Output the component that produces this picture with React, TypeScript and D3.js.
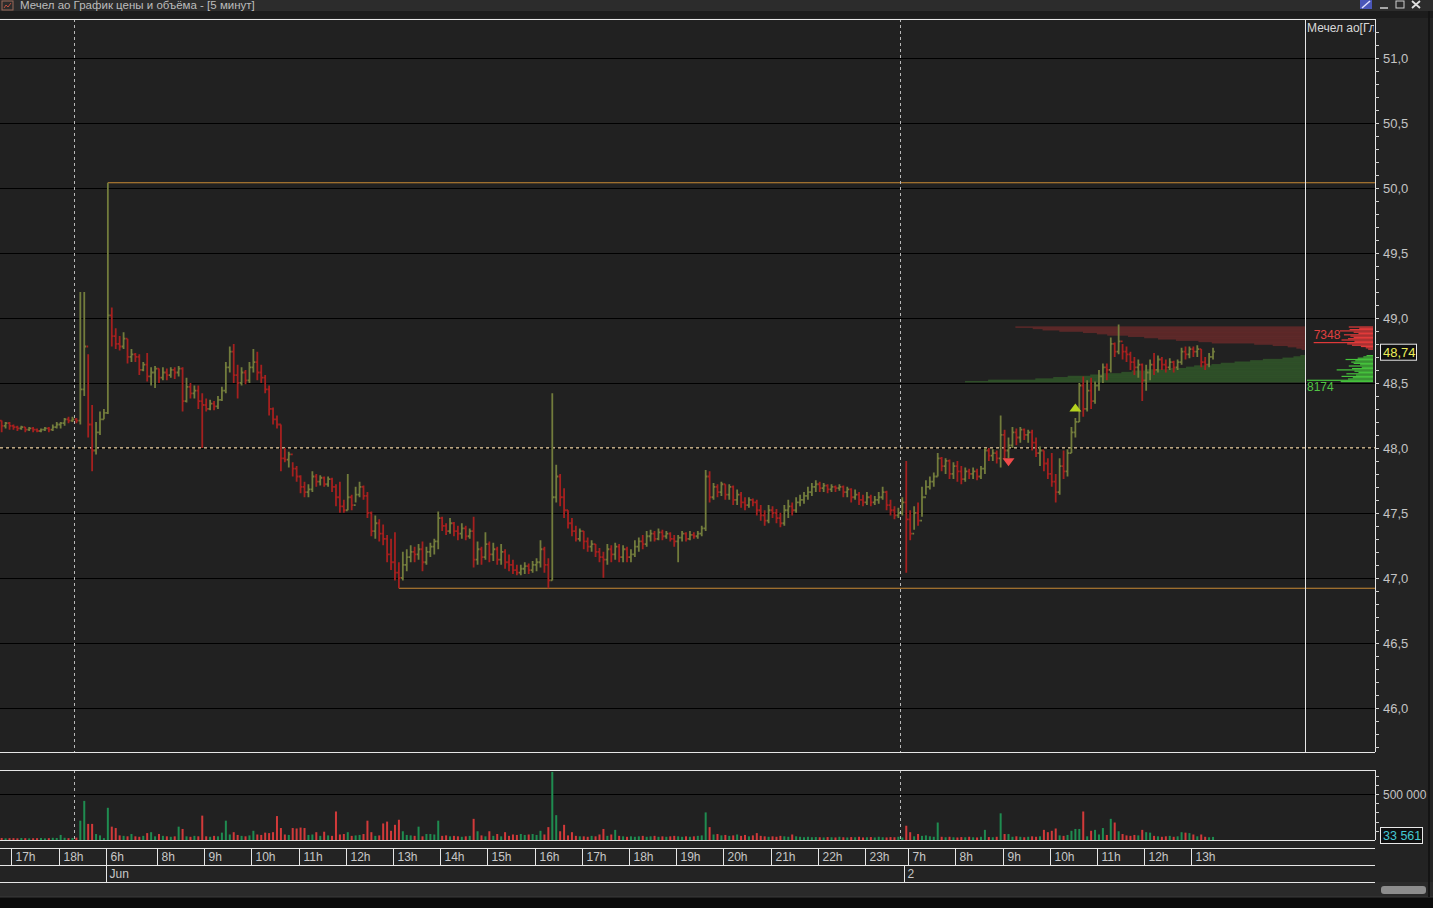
import React, { useRef, useEffect } from "react";
import * as d3 from "d3";

// window caption and panel label
const title = "Мечел ао График цены и объёма - [5 минут]";
const panelLabel = "Мечел ао[Главный]";

// 5-minute OHLC bars, open of each bar = previous close
const firstOpen = 48.21;
const closes = [
  48.17, 48.19, 48.17,
  // 17h
  48.16, 48.15, 48.16, 48.14, 48.15, 48.14, 48.13, 48.14, 48.15, 48.14, 48.16, 48.18,
  // 18h
  48.19, 48.22, 48.21, 48.22, 48.21, 48.45, 48.78, 48.18, 47.98, 48.12, 48.22, 48.27,
  // 6h-7h
  49.02, 48.86, 48.8, 48.78, 48.84, 48.7, 48.72, 48.7, 48.6, 48.64, 48.55, 48.58, 48.61,
  // 8h
  48.54, 48.58, 48.56, 48.6, 48.58, 48.61, 48.36, 48.47, 48.42, 48.44, 48.36, 48.33,
  // 9h
  48.3, 48.34, 48.32, 48.37, 48.44, 48.62, 48.74, 48.56, 48.5, 48.58, 48.52, 48.62,
  // 10h
  48.66, 48.58, 48.54, 48.45, 48.3, 48.22, 48.18, 47.92, 47.91, 47.95, 47.84, 47.78,
  // 11h
  47.7, 47.66, 47.68, 47.78, 47.74, 47.77, 47.72, 47.76, 47.7, 47.62, 47.55, 47.52,
  // 12h
  47.62, 47.56, 47.64, 47.7, 47.63, 47.5, 47.36, 47.42, 47.34, 47.3, 47.18, 47.12,
  // 13h
  47.04, 47.0, 47.1, 47.16, 47.2, 47.18, 47.22, 47.12, 47.2, 47.24, 47.28, 47.46,
  // 14h
  47.4, 47.36, 47.42, 47.36, 47.34, 47.38, 47.32, 47.36, 47.14, 47.22, 47.16, 47.26,
  // 15h
  47.18, 47.22, 47.14, 47.2, 47.12, 47.1, 47.06, 47.04, 47.07, 47.09, 47.06, 47.1,
  // 16h
  47.12, 47.22, 47.1, 46.98, 47.62, 47.78, 47.62, 47.52, 47.42, 47.36, 47.3, 47.36,
  // 17h
  47.28, 47.24, 47.26, 47.2, 47.16, 47.14, 47.22, 47.18, 47.24, 47.16, 47.22, 47.16,
  // 18h
  47.18, 47.24, 47.28, 47.26, 47.32, 47.34, 47.3, 47.35, 47.32, 47.34, 47.3, 47.28,
  // 19h
  47.31, 47.34, 47.3, 47.33, 47.32, 47.34, 47.38, 47.78, 47.62, 47.7, 47.66, 47.72,
  // 20h
  47.64, 47.7, 47.6, 47.64, 47.58, 47.56, 47.6, 47.58, 47.52, 47.48, 47.44, 47.52,
  // 21h
  47.5, 47.46, 47.42, 47.52, 47.55, 47.52, 47.58, 47.6, 47.63, 47.66, 47.7, 47.72,
  // 22h
  47.69, 47.71, 47.68, 47.7, 47.69, 47.7, 47.66, 47.68, 47.62, 47.64, 47.6, 47.58,
  // 23h
  47.62, 47.58, 47.6, 47.62, 47.66, 47.56, 47.52, 47.48, 47.5, 47.58,
  // 2 Jun, opening bar
  47.45,
  // 7h
  47.34, 47.5, 47.44, 47.62, 47.7, 47.74, 47.78, 47.92, 47.86, 47.9, 47.8, 47.86,
  // 8h
  47.82, 47.76, 47.82, 47.8, 47.82, 47.78, 47.84, 47.98, 47.94, 47.96, 47.92, 48.1,
  // 9h
  47.98, 48.02, 48.12, 48.08, 48.14, 48.1, 48.12, 48.04, 47.96, 47.98, 47.88, 47.8,
  // 10h
  47.74, 47.66, 47.86, 47.82, 47.96, 48.12, 48.2, 48.48, 48.3, 48.44, 48.36, 48.48,
  // 11h
  48.55, 48.62, 48.6, 48.8, 48.74, 48.82, 48.74, 48.72, 48.66, 48.62, 48.64, 48.52,
  // 12h
  48.58, 48.64, 48.6, 48.68, 48.64, 48.62, 48.66, 48.62, 48.66, 48.74, 48.72, 48.76,
  // 13h
  48.74, 48.76, 48.66, 48.64, 48.7, 48.74,
];
const highs = [
  48.21, 48.2, 48.2,
  48.18, 48.17, 48.17, 48.16, 48.16, 48.16, 48.15, 48.15, 48.16, 48.16, 48.18, 48.2,
  48.2, 48.23, 48.24, 48.24, 48.23, 49.2, 49.2, 48.72, 48.33, 48.2, 48.28, 48.3,
  50.04, 49.08, 48.92, 48.86, 48.89, 48.84, 48.76, 48.73, 48.72, 48.66, 48.73, 48.62, 48.63,
  48.61, 48.62, 48.61, 48.62, 48.62, 48.63, 48.62, 48.54, 48.5, 48.48, 48.48, 48.42,
  48.38, 48.37, 48.36, 48.4, 48.47, 48.66, 48.78, 48.8, 48.64, 48.62, 48.6, 48.66,
  48.76, 48.74, 48.64, 48.56, 48.48, 48.31, 48.25, 48.18, 48.0, 47.97, 47.89, 47.86,
  47.79, 47.74, 47.72, 47.82, 47.8, 47.79, 47.78, 47.78, 47.77, 47.72, 47.74, 47.6,
  47.8, 47.64, 47.7, 47.74, 47.71, 47.66, 47.51, 47.48, 47.45, 47.41, 47.33, 47.3,
  47.35, 47.12, 47.2, 47.22, 47.25, 47.24, 47.26, 47.28, 47.24, 47.27, 47.3, 47.51,
  47.47, 47.42, 47.46, 47.43, 47.4, 47.42, 47.4, 47.38, 47.47, 47.28, 47.24, 47.35,
  47.28, 47.27, 47.24, 47.26, 47.22, 47.18, 47.14, 47.1, 47.1, 47.12, 47.11, 47.13,
  47.15, 47.29, 47.24, 47.15, 48.42, 47.87, 47.8, 47.69, 47.52, 47.46, 47.4, 47.38,
  47.36, 47.31, 47.29, 47.26, 47.23, 47.2, 47.26, 47.25, 47.27, 47.26, 47.25, 47.24,
  47.22, 47.29, 47.31, 47.33, 47.36, 47.37, 47.36, 47.38, 47.37, 47.36, 47.35, 47.33,
  47.33, 47.36, 47.35, 47.36, 47.35, 47.36, 47.4, 47.83, 47.82, 47.73, 47.72, 47.74,
  47.72, 47.72, 47.71, 47.68, 47.66, 47.62, 47.62, 47.61, 47.6, 47.56, 47.52, 47.56,
  47.55, 47.53, 47.5, 47.56, 47.6, 47.58, 47.62, 47.64, 47.66, 47.7, 47.73, 47.75,
  47.74, 47.73, 47.72, 47.72, 47.71, 47.72, 47.71, 47.7, 47.69, 47.68, 47.66, 47.64,
  47.66, 47.64, 47.63, 47.66, 47.7, 47.67, 47.6, 47.55, 47.54, 47.62,
  47.9,
  47.52, 47.55, 47.58, 47.7, 47.75, 47.78, 47.81, 47.96, 47.93, 47.92, 47.91, 47.89,
  47.9, 47.86, 47.85, 47.84, 47.85, 47.84, 47.86, 48.0, 48.0, 47.99, 47.98, 48.25,
  48.14, 48.08, 48.16, 48.15, 48.16, 48.15, 48.14, 48.14, 48.08, 48.01, 47.98, 47.92,
  47.96, 47.8, 47.92, 47.98, 47.99, 48.16, 48.23, 48.5, 48.55, 48.52, 48.54, 48.51,
  48.6, 48.65, 48.65, 48.85, 48.81, 48.95, 48.8, 48.78, 48.74, 48.7, 48.68, 48.65,
  48.64, 48.68, 48.73, 48.71, 48.7, 48.68, 48.69, 48.67, 48.68, 48.77, 48.78, 48.78,
  48.78, 48.79, 48.76, 48.7, 48.73, 48.77,
];
const lows = [
  48.12, 48.15, 48.14,
  48.14, 48.13, 48.14, 48.12, 48.13, 48.12, 48.12, 48.12, 48.13, 48.12, 48.13, 48.15,
  48.15, 48.17, 48.19, 48.2, 48.19, 48.18, 48.4, 48.08, 47.82, 47.95, 48.1, 48.22,
  48.26, 48.78, 48.76, 48.75, 48.76, 48.65, 48.66, 48.66, 48.56, 48.59, 48.51, 48.48, 48.46,
  48.5, 48.52, 48.52, 48.54, 48.53, 48.55, 48.28, 48.35, 48.38, 48.38, 48.3, 48.0,
  48.28, 48.29, 48.29, 48.3, 48.36, 48.42, 48.58, 48.5, 48.38, 48.48, 48.49, 48.5,
  48.58, 48.52, 48.5, 48.42, 48.25, 48.18, 48.15, 47.82, 47.89, 47.85, 47.78, 47.74,
  47.65, 47.62, 47.62, 47.66, 47.7, 47.71, 47.7, 47.7, 47.66, 47.55, 47.5, 47.5,
  47.52, 47.52, 47.58, 47.62, 47.6, 47.46, 47.32, 47.3, 47.28, 47.25, 47.12, 47.06,
  46.98, 46.92, 46.98, 47.05, 47.12, 47.12, 47.14, 47.05, 47.1, 47.16, 47.18, 47.22,
  47.36, 47.33, 47.34, 47.32, 47.29, 47.3, 47.29, 47.3, 47.08, 47.1, 47.1, 47.14,
  47.12, 47.13, 47.1, 47.1, 47.07, 47.05, 47.03, 47.02, 47.02, 47.03, 47.03, 47.04,
  47.05, 47.08, 47.04, 46.92, 46.98, 47.58, 47.55, 47.46, 47.38, 47.32, 47.28, 47.28,
  47.22, 47.2, 47.2, 47.16, 47.12, 47.0, 47.1, 47.12, 47.14, 47.12, 47.12, 47.12,
  47.12, 47.16, 47.2, 47.22, 47.24, 47.28, 47.28, 47.29, 47.29, 47.3, 47.28, 47.24,
  47.12, 47.28, 47.28, 47.29, 47.3, 47.3, 47.32, 47.36, 47.58, 47.6, 47.62, 47.63,
  47.6, 47.6, 47.56, 47.56, 47.54, 47.52, 47.54, 47.55, 47.48, 47.44, 47.4, 47.42,
  47.46, 47.42, 47.39, 47.4, 47.46, 47.48, 47.5, 47.55, 47.57, 47.6, 47.63, 47.66,
  47.66, 47.66, 47.65, 47.66, 47.66, 47.67, 47.62, 47.62, 47.58, 47.6, 47.56, 47.55,
  47.56, 47.55, 47.56, 47.57, 47.6, 47.52, 47.48, 47.45, 47.46, 47.48,
  47.04,
  47.29, 47.37, 47.4, 47.47, 47.64, 47.68, 47.7, 47.78, 47.82, 47.8, 47.76, 47.76,
  47.74, 47.72, 47.74, 47.76, 47.76, 47.75, 47.76, 47.8, 47.9, 47.9, 47.88, 47.85,
  47.91, 47.92, 48.0, 48.02, 48.04, 48.06, 48.04, 47.98, 47.93, 47.86, 47.82, 47.76,
  47.7, 47.58, 47.64, 47.76, 47.78, 47.96, 48.08, 48.2, 48.24, 48.28, 48.3, 48.34,
  48.44, 48.5, 48.52, 48.58, 48.7, 48.72, 48.68, 48.66, 48.6, 48.56, 48.54, 48.36,
  48.44, 48.52, 48.56, 48.58, 48.6, 48.58, 48.6, 48.58, 48.6, 48.64, 48.68, 48.69,
  48.7, 48.7, 48.62, 48.6, 48.62, 48.68,
];
// volume per bar, thousands of shares
const volumesK = [
  22, 18, 20,
  20, 18, 22, 20, 18, 19, 20, 22, 18, 20, 24, 22,
  55, 24, 20, 22, 26, 210, 425, 175, 175, 65, 50, 20,
  350, 145, 130, 50, 45, 40, 65, 40, 35, 45, 75, 85, 40,
  65, 45, 40, 35, 40, 145, 120, 40, 35, 45, 40, 265,
  40, 35, 45, 40, 80, 210, 60, 85, 55, 45, 40, 50,
  100, 60, 55, 80, 75, 85, 260, 130, 60, 55, 130, 125,
  135, 130, 55, 60, 85, 45, 90, 50, 45, 310, 60, 65,
  85, 45, 50, 55, 65, 210, 85, 45, 50, 180, 200, 100,
  165, 220, 95, 55, 50, 45, 145, 40, 65, 65, 60, 210,
  45, 50, 40, 45, 40, 35, 40, 45, 230, 95, 50, 40,
  95, 45, 65, 40, 85, 45, 60, 55, 65, 55, 60, 65,
  55, 100, 60, 140, 740, 270, 95, 165, 50, 85, 45, 40,
  40, 35, 45, 40, 60, 120, 45, 60, 110, 45, 40, 35,
  40, 35, 40, 45, 35, 40, 45, 35, 40, 35, 40, 45,
  40, 35, 40, 35, 40, 45, 50, 300, 140, 60, 65, 50,
  55, 45, 50, 60, 45, 55, 40, 50, 75, 45, 40, 35,
  40, 35, 45, 40, 35, 60, 40, 35, 30, 35, 30, 32,
  30, 28, 32, 30, 28, 35, 30, 28, 32, 30, 35, 28,
  30, 32, 28, 35, 30, 28, 32, 30, 35, 28,
  155,
  85, 40, 65, 45, 50, 40, 35, 190, 35, 30, 35, 30,
  28, 32, 30, 35, 30, 28, 35, 110, 32, 30, 35, 290,
  65, 65, 35, 40, 35, 30, 35, 40, 35, 40, 110, 85,
  100, 125, 50, 45, 55, 100, 120, 120, 310, 40, 100, 110,
  60, 130, 55, 230, 190, 95, 65, 50, 45, 55, 50, 110,
  85, 80, 45, 40, 35, 40, 45, 35, 40, 85, 80, 75,
  60, 40, 60, 35, 30, 33.561,
];

// time axis: bar index where each hour / date starts
const hourTickBars = [3, 15, 27, 40, 52, 64, 76, 88, 100, 112, 124, 136, 148, 160, 172, 184, 196, 208, 220, 231, 243, 255, 267, 279, 291, 303];
const hourTickLabels = ["17h", "18h", "6h", "8h", "9h", "10h", "11h", "12h", "13h", "14h", "15h", "16h", "17h", "18h", "19h", "20h", "21h", "22h", "23h", "7h", "8h", "9h", "10h", "11h", "12h", "13h"];
const dateTickBars = [27, 230];
const dateTickLabels = ["Jun", "2"];
const sessionBars = [19, 229];
const levelPrices = [48.0];

// trade signals
const signalBars = [256, 273];
const signalPrices = [47.89, 48.31];
const signalTypes = ["sell", "buy"];

// order book
const askPrices = [48.76, 48.77, 48.78, 48.79, 48.8, 48.81, 48.82, 48.83, 48.84, 48.85, 48.86, 48.87, 48.88, 48.89, 48.9, 48.91, 48.92, 48.93];
const askSizes = [600, 900, 1500, 2600, 3200, 7348, 2300, 3900, 3100, 2400, 2800, 3600, 1800, 2400, 4100, 2900, 1700, 3000];
const bidPrices = [48.71, 48.7, 48.69, 48.68, 48.67, 48.66, 48.65, 48.64, 48.63, 48.62, 48.61, 48.6, 48.59, 48.58, 48.57, 48.56, 48.55, 48.54, 48.53, 48.52, 48.51];
const bidSizes = [800, 1200, 1900, 3400, 2200, 2700, 2400, 1600, 3000, 1400, 2600, 4500, 2300, 1800, 3300, 2100, 3900, 2500, 3100, 8174, 4000];

const W = 1433;
const H = 908;
const FONT = "'Liberation Sans', Arial, sans-serif";

const App: React.FC = () => {
  const chartRef = useRef<SVGSVGElement | null>(null);

  useEffect(() => {
    document.body.style.margin = "0";
    document.body.style.background = "#0b0b0b";
    if (!chartRef.current) return;
    const svg = d3.select(chartRef.current);
    svg.selectAll("*").remove();

    const plotRight = 1375;
    const priceTop = 19;
    const priceBottom = 752;
    const volTop = 770;
    const volBottom = 840;
    const hourTop = 848;
    const hourBottom = 865;
    const dateBottom = 882;
    const bookX = 1305;

    const loc = d3.formatLocale({ decimal: ",", thousands: " ", grouping: [3], currency: ["", ""] });
    const fmt1 = loc.format(".1f");
    const fmt2 = loc.format(".2f");
    const fmtVol = loc.format(",.0f");

    const bars = closes.map((c, i) => ({
      i,
      o: i === 0 ? firstOpen : closes[i - 1],
      h: highs[i],
      l: lows[i],
      c,
      v: volumesK[i] * 1000,
    }));

    const x = d3.scaleLinear().domain([0, bars.length]).range([-0.3, 1215]);
    const y = d3.scaleLinear().domain([45.66, 51.3]).range([priceBottom, priceTop]);
    const yv = d3.scaleLinear().domain([0, 500000]).range([volBottom, 794]);

    const upColor = "#727c3c";
    const downColor = "#a5201f";

    // backgrounds
    svg.append("rect").attr("width", W).attr("height", H).attr("fill", "#0b0b0b");
    svg.append("rect").attr("y", 11).attr("width", W).attr("height", 886).attr("fill", "#232323");
    svg.append("rect").attr("width", W).attr("height", 11).attr("fill", "#2c2c2c");
    svg.append("rect").attr("y", 11).attr("width", W).attr("height", 7).attr("fill", "#1c1c1c");
    svg.append("rect").attr("x", 0).attr("y", priceTop).attr("width", plotRight).attr("height", priceBottom - priceTop).attr("fill", "#212121");
    svg.append("rect").attr("x", 0).attr("y", volTop).attr("width", plotRight).attr("height", volBottom - volTop).attr("fill", "#212121");
    svg.append("rect").attr("x", 0).attr("y", dateBottom).attr("width", W).attr("height", 15).attr("fill", "#2a2a2a");
    svg.append("line").attr("x1", 0).attr("x2", W).attr("y1", 897).attr("y2", 897).attr("stroke", "#3a3a3a");
    svg.append("line").attr("x1", 1429).attr("x2", 1429).attr("y1", 11).attr("y2", 897).attr("stroke", "#141414").attr("stroke-width", 2);

    // caption
    const cap = svg.append("g");
    cap.append("rect").attr("x", 2).attr("y", 1).attr("width", 11).attr("height", 9).attr("fill", "none").attr("stroke", "#9a6a5a");
    cap.append("path").attr("d", "M4,8L6,5L8,7L11,3").attr("fill", "none").attr("stroke", "#c05040");
    cap.append("text").attr("x", 20).attr("y", 9).attr("fill", "#bcbcbc").attr("font-size", 11.5).attr("font-family", FONT).text(title);
    cap.append("rect").attr("x", 1360).attr("y", 0).attr("width", 12).attr("height", 9).attr("fill", "#4a56b8");
    cap.append("path").attr("d", "M1362,8L1370,1").attr("stroke", "#e0e0ff").attr("stroke-width", 1.5);
    cap.append("line").attr("x1", 1380).attr("x2", 1388).attr("y1", 8).attr("y2", 8).attr("stroke", "#cfcfcf").attr("stroke-width", 1.5);
    cap.append("rect").attr("x", 1396).attr("y", 1).attr("width", 8).attr("height", 7).attr("fill", "none").attr("stroke", "#cfcfcf");
    cap.append("path").attr("d", "M1412,1L1420,8M1420,1L1412,8").attr("stroke", "#e0e0e0").attr("stroke-width", 1.8);

    // clips
    const defs = svg.append("defs");
    defs.append("clipPath").attr("id", "priceClip").append("rect")
      .attr("x", 0).attr("y", priceTop).attr("width", plotRight).attr("height", priceBottom - priceTop);
    defs.append("clipPath").attr("id", "labelClip").append("rect")
      .attr("x", bookX + 1).attr("y", priceTop).attr("width", plotRight - bookX - 2).attr("height", 20);

    const price = svg.append("g").attr("clip-path", "url(#priceClip)");

    // grid
    const majorTicks = d3.range(46, 51.01, 0.5);
    price.selectAll(".grid").data(majorTicks).join("line")
      .attr("x1", 0).attr("x2", plotRight)
      .attr("y1", (d) => Math.round(y(d)) + 0.5).attr("y2", (d) => Math.round(y(d)) + 0.5)
      .attr("stroke", "#000").attr("stroke-width", 1);

    // order book depth shading
    const askCum = d3.cumsum(askSizes);
    const bidCum = d3.cumsum(bidSizes);
    const depth = d3.scaleLinear()
      .domain([0, Math.max(askCum[askCum.length - 1], bidCum[bidCum.length - 1])])
      .range([0, 340]);
    const half = (y(48) - y(48.01)) / 2;
    price.selectAll(".askShade").data(askPrices).join("rect")
      .attr("x", (_, k) => bookX - depth(askCum[k])).attr("width", (_, k) => depth(askCum[k]))
      .attr("y", (d) => y(d) - half).attr("height", half * 2 + 0.2)
      .attr("fill", "#8a3030").attr("opacity", 0.55);
    price.selectAll(".bidShade").data(bidPrices).join("rect")
      .attr("x", (_, k) => bookX - depth(bidCum[k])).attr("width", (_, k) => depth(bidCum[k]))
      .attr("y", (d) => y(d) - half).attr("height", half * 2 + 0.2)
      .attr("fill", "#3c7a30").attr("opacity", 0.5);

    // extreme price lines
    const maxHigh = d3.max(highs) as number;
    const minLow = d3.min(lows) as number;
    const hiBar = highs.indexOf(maxHigh);
    const loBar = lows.indexOf(minLow);
    price.append("line").attr("x1", x(hiBar + 0.5)).attr("x2", plotRight)
      .attr("y1", y(maxHigh)).attr("y2", y(maxHigh)).attr("stroke", "#c98a35").attr("stroke-width", 1.2);
    price.append("line").attr("x1", x(loBar + 0.5)).attr("x2", plotRight)
      .attr("y1", y(minLow)).attr("y2", y(minLow)).attr("stroke", "#c98a35").attr("stroke-width", 1.2);

    // level line
    price.selectAll(".level").data(levelPrices).join("line")
      .attr("x1", 0).attr("x2", plotRight)
      .attr("y1", (d) => y(d)).attr("y2", (d) => y(d))
      .attr("stroke", "#efd4a4").attr("stroke-width", 1.2).attr("stroke-dasharray", "3,3");

    // session separators
    [[priceTop, priceBottom], [volTop, volBottom]].forEach(([a, b]) => {
      svg.selectAll(null).data(sessionBars).join("line")
        .attr("x1", (d) => Math.round(x(d)) + 0.5).attr("x2", (d) => Math.round(x(d)) + 0.5)
        .attr("y1", a).attr("y2", b)
        .attr("stroke", "#b8b8b8").attr("stroke-width", 1).attr("stroke-dasharray", "3,3");
    });

    // OHLC bars
    const tick = 1.8;
    price.selectAll(".bar").data(bars).join("path")
      .attr("d", (d) => {
        const cx = x(d.i + 0.5);
        return `M${cx},${y(d.h)}V${y(d.l)}M${cx - tick},${y(d.o)}H${cx}M${cx},${y(d.c)}H${cx + tick}`;
      })
      .attr("fill", "none")
      .attr("stroke", (d) => (d.c >= d.o ? upColor : downColor))
      .attr("stroke-width", 1.8);

    // signals
    signalBars.forEach((b, k) => {
      const cx = x(b + 0.5);
      const cy = y(signalPrices[k]);
      const d = signalTypes[k] === "sell"
        ? `M${cx - 6},${cy - 4}L${cx + 6},${cy - 4}L${cx},${cy + 4}Z`
        : `M${cx - 6},${cy + 4}L${cx + 6},${cy + 4}L${cx},${cy - 4}Z`;
      price.append("path").attr("d", d).attr("fill", signalTypes[k] === "sell" ? "#f04a4a" : "#b6d31f");
    });

    // order book level bars
    const bookLen = d3.scaleLinear().domain([0, d3.max(bidSizes.concat(askSizes)) as number]).range([0, 66]);
    const bookRight = plotRight - 2;
    price.selectAll(".askBar").data(askPrices).join("rect")
      .attr("x", (_, k) => bookRight - bookLen(askSizes[k])).attr("width", (_, k) => bookLen(askSizes[k]))
      .attr("y", (d) => y(d) - 0.6).attr("height", 1.2).attr("fill", "#e23a3a");
    price.selectAll(".bidBar").data(bidPrices).join("rect")
      .attr("x", (_, k) => bookRight - bookLen(bidSizes[k])).attr("width", (_, k) => bookLen(bidSizes[k]))
      .attr("y", (d) => y(d) - 0.6).attr("height", 1.2).attr("fill", "#45c23c");
    const maxAsk = d3.max(askSizes) as number;
    const maxBid = d3.max(bidSizes) as number;
    price.append("text").attr("x", bookRight - bookLen(maxAsk)).attr("y", y(askPrices[askSizes.indexOf(maxAsk)]) - 4)
      .attr("fill", "#e04040").attr("font-size", 12).attr("font-family", FONT).text(String(maxAsk));
    price.append("text").attr("x", bookRight - bookLen(maxBid)).attr("y", y(bidPrices[bidSizes.indexOf(maxBid)]) + 11)
      .attr("fill", "#52c446").attr("font-size", 12).attr("font-family", FONT).text(String(maxBid));

    // frames
    const frame = svg.append("g").attr("stroke", "#e6e6e6").attr("stroke-width", 1);
    frame.append("line").attr("x1", 0).attr("x2", plotRight).attr("y1", priceTop + 0.5).attr("y2", priceTop + 0.5);
    frame.append("line").attr("x1", 0).attr("x2", plotRight).attr("y1", priceBottom + 0.5).attr("y2", priceBottom + 0.5);
    frame.append("line").attr("x1", plotRight + 0.5).attr("x2", plotRight + 0.5).attr("y1", priceTop).attr("y2", priceBottom);
    frame.append("line").attr("x1", bookX + 0.5).attr("x2", bookX + 0.5).attr("y1", priceTop).attr("y2", priceBottom);
    frame.append("line").attr("x1", 0).attr("x2", plotRight).attr("y1", volTop + 0.5).attr("y2", volTop + 0.5);
    frame.append("line").attr("x1", 0).attr("x2", plotRight).attr("y1", volBottom + 0.5).attr("y2", volBottom + 0.5);
    frame.append("line").attr("x1", plotRight + 0.5).attr("x2", plotRight + 0.5).attr("y1", volTop).attr("y2", volBottom);

    svg.append("text").attr("x", bookX + 2).attr("y", 32).attr("clip-path", "url(#labelClip)")
      .attr("fill", "#d8d8d8").attr("font-size", 12).attr("font-family", FONT).text(panelLabel);

    // price axis
    const minorTicks = d3.range(45.7, 51.3, 0.1);
    svg.selectAll(".ptick").data(minorTicks).join("line")
      .attr("x1", plotRight).attr("x2", plotRight + 4)
      .attr("y1", (d) => Math.round(y(d)) + 0.5).attr("y2", (d) => Math.round(y(d)) + 0.5)
      .attr("stroke", "#cfcfcf");
    svg.selectAll(".plabel").data(majorTicks).join("text")
      .attr("x", plotRight + 8).attr("y", (d) => y(d) + 5)
      .attr("fill", "#c4c4c4").attr("font-size", 13).attr("font-family", FONT)
      .text((d) => fmt1(d));

    // last price box
    const last = closes[closes.length - 1];
    svg.append("rect").attr("x", plotRight + 5.5).attr("y", y(last) - 7.5).attr("width", 36).attr("height", 16)
      .attr("fill", "#101010").attr("stroke", "#e8e8e8");
    svg.append("text").attr("x", plotRight + 8).attr("y", y(last) + 5)
      .attr("fill", "#ecec5a").attr("font-size", 13).attr("font-family", FONT).text(fmt2(last));

    // volume panel
    svg.append("line").attr("x1", 0).attr("x2", plotRight).attr("y1", Math.round(yv(500000)) + 0.5).attr("y2", Math.round(yv(500000)) + 0.5)
      .attr("stroke", "#000");
    svg.selectAll(".vol").data(bars).join("rect")
      .attr("x", (d) => x(d.i + 0.5) - 1).attr("width", 2)
      .attr("y", (d) => yv(d.v)).attr("height", (d) => volBottom - yv(d.v))
      .attr("fill", (d) => (d.c >= d.o ? "#1f8c50" : "#d23a3a"));
    const volTicks = d3.range(100000, 700001, 100000);
    svg.selectAll(".vtick").data(volTicks).join("line")
      .attr("x1", plotRight).attr("x2", plotRight + 4)
      .attr("y1", (d) => Math.round(yv(d)) + 0.5).attr("y2", (d) => Math.round(yv(d)) + 0.5)
      .attr("stroke", "#cfcfcf");
    svg.append("text").attr("x", plotRight + 8).attr("y", yv(500000) + 4.5)
      .attr("fill", "#c4c4c4").attr("font-size", 12).attr("font-family", FONT).text(fmtVol(500000));
    const lastVol = bars[bars.length - 1].v;
    svg.append("rect").attr("x", plotRight + 5.5).attr("y", 827.5).attr("width", 42).attr("height", 16)
      .attr("fill", "#101010").attr("stroke", "#e8e8e8");
    svg.append("text").attr("x", plotRight + 8).attr("y", 840)
      .attr("fill", "#45c8d2").attr("font-size", 12.5).attr("font-family", FONT).text(fmtVol(lastVol));

    // time axis
    const axis = svg.append("g");
    [hourTop, hourBottom, dateBottom].forEach((yy) => {
      axis.append("line").attr("x1", 0).attr("x2", plotRight).attr("y1", yy + 0.5).attr("y2", yy + 0.5).attr("stroke", "#e6e6e6");
    });
    hourTickBars.forEach((b, k) => {
      const sx = Math.round(x(b)) + 0.5;
      axis.append("line").attr("x1", sx).attr("x2", sx).attr("y1", hourTop).attr("y2", hourBottom).attr("stroke", "#e6e6e6");
      axis.append("text").attr("x", sx + 4).attr("y", hourBottom - 4)
        .attr("fill", "#c8c8c8").attr("font-size", 12).attr("font-family", FONT).text(hourTickLabels[k]);
    });
    dateTickBars.forEach((b, k) => {
      const sx = Math.round(x(b)) + 0.5;
      axis.append("line").attr("x1", sx).attr("x2", sx).attr("y1", hourBottom).attr("y2", dateBottom).attr("stroke", "#e6e6e6");
      axis.append("text").attr("x", sx + 3).attr("y", dateBottom - 4)
        .attr("fill", "#c8c8c8").attr("font-size", 12).attr("font-family", FONT).text(dateTickLabels[k]);
    });

    // scroll thumb
    svg.append("rect").attr("x", 1381).attr("y", 886).attr("width", 45).attr("height", 8).attr("rx", 3)
      .attr("fill", "#8c8c8c");
  }, []);

  return <svg ref={chartRef} width={W} height={H} style={{ display: "block" }} />;
};

export default App;
